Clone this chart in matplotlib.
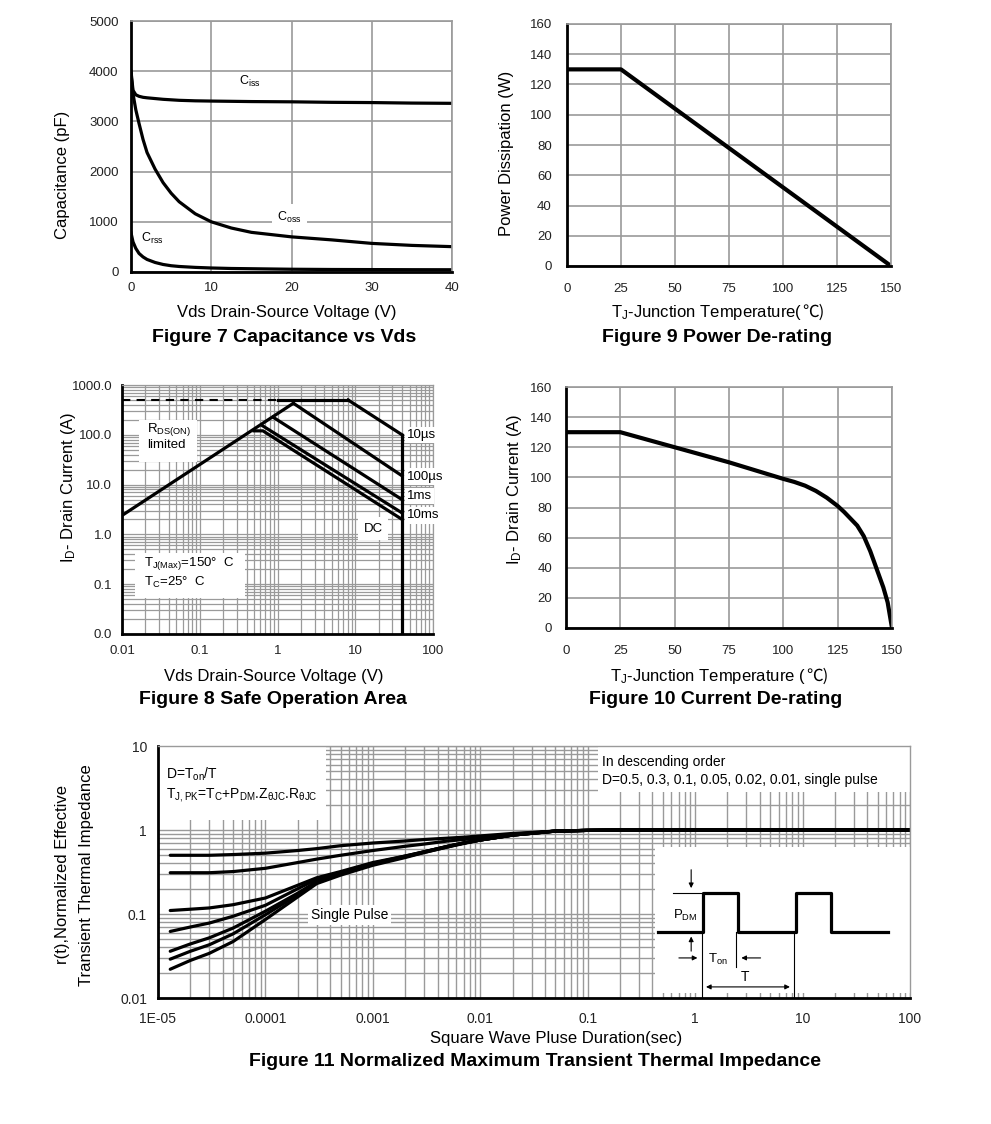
import numpy as np
import matplotlib
matplotlib.use("Agg")
import matplotlib.pyplot as plt
from matplotlib.patches import Rectangle
from matplotlib.ticker import LogLocator, NullFormatter

plt.rcParams['font.family'] = ['Liberation Sans', 'DejaVu Sans']
plt.rcParams['mathtext.fontset'] = 'custom'
plt.rcParams['mathtext.rm'] = 'Liberation Sans'
plt.rcParams['mathtext.default'] = 'regular'

# ---- data ----
# Figure 7
vds = [0, 0.25, 0.6, 1, 1.5, 2, 3, 4, 5, 6, 8, 10, 12.5, 15, 20, 25, 30, 35, 40]
ciss = [4000, 3620, 3530, 3500, 3480, 3470, 3455, 3440, 3430, 3420, 3410, 3405, 3400, 3395,
        3390, 3380, 3375, 3365, 3360]
coss = [3950, 3550, 3230, 2960, 2640, 2380, 2050, 1780, 1570, 1400, 1160, 1000, 876, 790,
        700, 640, 570, 530, 505]
crss = [780, 600, 470, 370, 300, 250, 190, 150, 125, 110, 92, 80, 70, 65, 55, 50, 48, 46, 45]

# Figure 9
tj_p = [0, 25, 150]
pd_w = [130, 130, 0]

# Figure 10
tj_i = [0, 25, 50, 75, 100, 105, 110, 115, 120, 125, 128, 131, 134, 137, 140, 142, 144, 146, 148, 150]
id_a = [130, 130, 120, 110, 99, 97, 94.5, 91, 86.5, 81, 77, 72.5, 68, 61, 51, 43, 35, 27, 17, 0]

# Figure 8 (SOA)
rds_v, rds_i = [0.01, 1.6], [2.4, 430]
pk_dash_v, pk_dash_i = [0.01, 1.0], [500, 500]
pk_v, pk_i = [1.0, 8.1], [500, 500]
soa_lines = {
    '10µs': ([8.1, 40], [500, 100]),
    '100µs': ([1.6, 40], [430, 15]),
    '1ms': ([0.88, 40], [225, 5.0]),
    '10ms': ([0.65, 40], [150, 2.7]),
    'DC': ([0.5, 0.65, 40], [120, 120, 2.0]),
}
bv_v, bv_i = [40, 40], [100, 0.01]

# Figure 11
tp = [1.3e-5, 2e-5, 3e-5, 5e-5, 1e-4, 2e-4, 3e-4, 5e-4, 1e-3, 2e-3, 3e-3, 5e-3, 7e-3,
      1e-2, 2e-2, 5e-2, 0.1, 0.2, 1, 10, 100]
zth = {
    'D=0.5': [0.50, 0.50, 0.50, 0.51, 0.53, 0.57, 0.60, 0.65, 0.70, 0.74, 0.77, 0.80, 0.82,
              0.85, 0.91, 0.97, 0.99, 1.0, 1.0, 1.0, 1.0],
    'D=0.3': [0.31, 0.31, 0.31, 0.32, 0.35, 0.41, 0.45, 0.50, 0.57, 0.64, 0.68, 0.74, 0.77,
              0.81, 0.89, 0.97, 0.99, 1.0, 1.0, 1.0, 1.0],
    'D=0.1': [0.110, 0.114, 0.118, 0.129, 0.155, 0.22, 0.27, 0.32, 0.41, 0.49, 0.55, 0.64, 0.70,
              0.76, 0.87, 0.97, 0.99, 1.0, 1.0, 1.0, 1.0],
    'D=0.05': [0.062, 0.070, 0.078, 0.094, 0.127, 0.20, 0.26, 0.31, 0.40, 0.49, 0.55, 0.64, 0.70,
               0.76, 0.87, 0.97, 0.99, 1.0, 1.0, 1.0, 1.0],
    'D=0.02': [0.036, 0.044, 0.052, 0.068, 0.108, 0.177, 0.244, 0.30, 0.40, 0.48, 0.55, 0.64, 0.70,
               0.76, 0.87, 0.97, 0.99, 1.0, 1.0, 1.0, 1.0],
    'D=0.01': [0.029, 0.036, 0.043, 0.058, 0.098, 0.17, 0.24, 0.30, 0.39, 0.48, 0.54, 0.63, 0.70,
               0.76, 0.87, 0.97, 0.99, 1.0, 1.0, 1.0, 1.0],
    'single': [0.022, 0.028, 0.034, 0.047, 0.086, 0.16, 0.23, 0.29, 0.38, 0.47, 0.54, 0.63, 0.69,
               0.76, 0.87, 0.97, 0.99, 1.0, 1.0, 1.0, 1.0],
}

W, H = 991, 1124
fig = plt.figure(figsize=(W / 100, H / 100), dpi=100)
GRID = '#9a9a9a'


def rect(l, t, r, b):
    return [l / W, 1 - b / H, (r - l) / W, (b - t) / H]


def ftext(x, y, s, **kw):
    kw.setdefault('ha', 'center')
    kw.setdefault('va', 'center')
    fig.text(x / W, 1 - y / H, s, **kw)


def style(ax, xpad, ypad, fs=9.5, glw=1.2):
    ax.set_axisbelow(True)
    ax.grid(True, which='both', color=GRID, lw=glw)
    for s in ['top', 'right']:
        ax.spines[s].set_color(GRID)
        ax.spines[s].set_linewidth(glw)
    for s in ['left', 'bottom']:
        ax.spines[s].set_color('black')
        ax.spines[s].set_linewidth(2)
    ax.tick_params(which='both', length=0, labelsize=fs, labelcolor='#222222')
    ax.tick_params(axis='x', pad=xpad)
    ax.tick_params(axis='y', pad=ypad)


def logminor(axis):
    axis.set_minor_locator(LogLocator(base=10, subs=np.arange(2, 10), numticks=100))
    axis.set_minor_formatter(NullFormatter())


# ---- Figure 7 ----
ax7 = fig.add_axes(rect(131, 21, 452, 272))
ax7.plot(vds, ciss, color='black', lw=2.3)
ax7.plot(vds, coss, color='black', lw=2.3)
ax7.plot(vds, crss, color='black', lw=2.3)
ax7.set_xlim(0, 40)
ax7.set_ylim(0, 5000)
ax7.set_xticks([0, 10, 20, 30, 40])
ax7.set_yticks(range(0, 5001, 1000))
style(ax7, 7, 9)
box = dict(facecolor='white', edgecolor='none', pad=2)
ax7.text(13.5, 3720, 'C$_{iss}$', fontsize=9, bbox=box)
ax7.text(18.2, 1090, 'C$_{oss}$', fontsize=9, va='center', bbox=dict(facecolor='white', edgecolor='none', pad=4))
ax7.text(1.2, 670, 'C$_{rss}$', fontsize=9, va='center')
ftext(62, 175, 'Capacitance (pF)', rotation=90, fontsize=12)
ftext(287, 312, 'Vds Drain-Source Voltage (V)', fontsize=12)
ftext(284, 338, 'Figure 7 Capacitance vs Vds', fontsize=14, weight='bold')

# ---- Figure 9 ----
ax9 = fig.add_axes(rect(567, 24, 891, 266))
ax9.plot(tj_p, pd_w, color='black', lw=3)
ax9.set_xlim(0, 150)
ax9.set_ylim(0, 160)
ax9.set_xticks(range(0, 151, 25))
ax9.set_yticks(range(0, 161, 20))
style(ax9, 12, 11)
ftext(507, 153, 'Power Dissipation (W)', rotation=90, fontsize=12)
ftext(802, 312, 'T$_J$-Junction Temperature(', fontsize=12, ha='right')
ftext(802, 312, '℃)', fontsize=12, ha='left', family=['Noto Sans CJK SC', 'DejaVu Sans'])
ftext(717, 338, 'Figure 9 Power De-rating', fontsize=14, weight='bold')

# ---- Figure 8 ----
ax8 = fig.add_axes(rect(122, 385, 433, 634))
ax8.set_xscale('log')
ax8.set_yscale('log')
ax8.set_xlim(0.01, 100)
ax8.set_ylim(0.01, 1000)
ax8.set_xticks([0.01, 0.1, 1, 10, 100], ['0.01', '0.1', '1', '10', '100'])
ax8.set_yticks([0.01, 0.1, 1, 10, 100, 1000], ['0.0', '0.1', '1.0', '10.0', '100.0', '1000.0'])
logminor(ax8.xaxis)
logminor(ax8.yaxis)
style(ax8, 8, 7, glw=0.9)
ax8.plot(rds_v, rds_i, color='black', lw=2.3)
ax8.plot(pk_dash_v, pk_dash_i, color='black', lw=1.5, ls=(0, (4, 3)))
ax8.plot(pk_v, pk_i, color='black', lw=2.3)
for name, (v, i) in soa_lines.items():
    ax8.plot(v, i, color='black', lw=2.3)
ax8.plot(bv_v, bv_i, color='black', lw=2.3)
ax8.add_patch(Rectangle((0.0167, 28), 0.091 - 0.0167, 200 - 28, facecolor='white', edgecolor='none', zorder=1.5))
ax8.text(0.021, 95, 'R$_{DS(ON)}$\nlimited', fontsize=9.5, va='center', zorder=3)
ax8.add_patch(Rectangle((0.0147, 0.054), 0.38 - 0.0147, 0.43 - 0.054, facecolor='white', edgecolor='none', zorder=1.5))
ax8.text(0.019, 0.26, 'T$_{J(Max)}$=150°  C', fontsize=9.5, va='center', zorder=3)
ax8.text(0.019, 0.11, 'T$_{C}$=25°  C', fontsize=9.5, va='center', zorder=3)
lab = dict(facecolor='white', edgecolor='none', pad=1.5)
ax8.text(46, 100, '10µs', fontsize=9.5, va='center', bbox=lab)
ax8.text(46, 14.5, '100µs', fontsize=9.5, va='center', bbox=lab)
ax8.text(46, 6.0, '1ms', fontsize=9.5, va='center', bbox=lab)
ax8.text(46, 2.4, '10ms', fontsize=9.5, va='center', bbox=lab)
ax8.text(17, 1.3, 'DC', fontsize=9.5, ha='center', va='center', bbox=dict(facecolor='white', edgecolor='none', pad=4))
ftext(68, 487, 'I$_D$- Drain Current (A)', rotation=90, fontsize=12)
ftext(274, 676, 'Vds Drain-Source Voltage (V)', fontsize=12)
ftext(273, 700, 'Figure 8 Safe Operation Area', fontsize=14, weight='bold')

# ---- Figure 10 ----
ax10 = fig.add_axes(rect(566, 387, 892, 628))
ax10.plot(tj_i, id_a, color='black', lw=3)
ax10.set_xlim(0, 150)
ax10.set_ylim(0, 160)
ax10.set_xticks(range(0, 151, 25))
ax10.set_yticks(range(0, 161, 20))
style(ax10, 12, 10)
ftext(515, 489, 'I$_D$- Drain Current (A)', rotation=90, fontsize=12)
ftext(806, 676, 'T$_J$-Junction Temperature (', fontsize=12, ha='right')
ftext(806, 676, '℃)', fontsize=12, ha='left', family=['Noto Sans CJK SC', 'DejaVu Sans'])
ftext(716, 700, 'Figure 10 Current De-rating', fontsize=14, weight='bold')

# ---- Figure 11 ----
ax11 = fig.add_axes(rect(158, 746, 910, 998))
ax11.set_xscale('log')
ax11.set_yscale('log')
ax11.set_xlim(1e-5, 100)
ax11.set_ylim(0.01, 10)
ax11.set_xticks([1e-5, 1e-4, 1e-3, 1e-2, 0.1, 1, 10, 100],
                ['1E-05', '0.0001', '0.001', '0.01', '0.1', '1', '10', '100'])
ax11.set_yticks([0.01, 0.1, 1, 10], ['0.01', '0.1', '1', '10'])
logminor(ax11.xaxis)
logminor(ax11.yaxis)
style(ax11, 10, 8, fs=10, glw=1.0)
for name, z in zth.items():
    ax11.plot(tp, z, color='black', lw=2.3, solid_capstyle='round')
ax11.add_patch(Rectangle((1e-5, 1.3), 3.7e-4 - 1e-5, 10 - 1.3, facecolor='white', edgecolor='none', zorder=1.5))
ax11.add_patch(Rectangle((0.125, 2.83), 100 - 0.125, 10 - 2.83, facecolor='white', edgecolor='none', zorder=1.5))
ax11.add_patch(Rectangle((0.42, 0.0115), 100 - 0.42, 0.63 - 0.0115, facecolor='white', edgecolor='none', zorder=1.5))
ax11.text(1.18e-5, 4.6, 'D=T$_{on}$/T', fontsize=10, va='center', zorder=3)
ax11.text(1.18e-5, 2.6, 'T$_{J,PK}$=T$_C$+P$_{DM}$.Z$_{θJC}$.R$_{θJC}$', fontsize=10, va='center', zorder=3)
ax11.text(0.135, 6.4, 'In descending order', fontsize=10, va='center', zorder=3)
ax11.text(0.135, 3.9, 'D=0.5, 0.3, 0.1, 0.05, 0.02, 0.01, single pulse', fontsize=10, va='center', zorder=3)
ax11.text(6.1e-4, 0.097, 'Single Pulse', fontsize=10, ha='center', va='center',
          bbox=dict(facecolor='white', edgecolor='none', pad=2))

# pulse sketch in the inset (axes fraction)
T = ax11.transAxes
px = [0.665, 0.725, 0.725, 0.771, 0.771, 0.848, 0.848, 0.895, 0.895, 0.971]
py = [0.262, 0.262, 0.417, 0.417, 0.262, 0.262, 0.417, 0.417, 0.262, 0.262]
ax11.plot(px, py, transform=T, color='black', lw=2.3, zorder=4)
ax11.plot([0.685, 0.725], [0.417, 0.417], transform=T, color='black', lw=0.8, zorder=4)
ax11.plot([0.723, 0.723], [0.262, 0.0], transform=T, color='black', lw=0.8, zorder=4)
ax11.plot([0.769, 0.769], [0.262, 0.123], transform=T, color='black', lw=0.8, zorder=4)
ax11.plot([0.846, 0.846], [0.262, 0.0], transform=T, color='black', lw=0.8, zorder=4)
arr = dict(arrowstyle='-|>', color='black', lw=0.8, mutation_scale=7)
ax11.annotate('', xy=(0.709, 0.425), xytext=(0.709, 0.52), xycoords=T, textcoords=T, arrowprops=arr, zorder=4)
ax11.annotate('', xy=(0.709, 0.255), xytext=(0.709, 0.175), xycoords=T, textcoords=T, arrowprops=arr, zorder=4)
ax11.annotate('', xy=(0.721, 0.159), xytext=(0.689, 0.159), xycoords=T, textcoords=T, arrowprops=arr, zorder=4)
ax11.annotate('', xy=(0.772, 0.159), xytext=(0.805, 0.159), xycoords=T, textcoords=T, arrowprops=arr, zorder=4)
ax11.annotate('', xy=(0.844, 0.044), xytext=(0.725, 0.044), xycoords=T, textcoords=T,
              arrowprops=dict(arrowstyle='<|-|>', color='black', lw=0.8, mutation_scale=7), zorder=4)
ax11.text(0.701, 0.329, 'P$_{DM}$', transform=T, fontsize=9.5, ha='center', va='center', zorder=4)
ax11.text(0.745, 0.151, 'T$_{on}$', transform=T, fontsize=9.5, ha='center', va='center', zorder=4)
ax11.text(0.781, 0.083, 'T', transform=T, fontsize=10, ha='center', va='center', zorder=4)

ftext(62, 875, 'r(t),Normalized Effective', rotation=90, fontsize=12)
ftext(87, 875, 'Transient Thermal Impedance', rotation=90, fontsize=12)
ftext(556, 1038, 'Square Wave Pluse Duration(sec)', fontsize=12)
ftext(535, 1062, 'Figure 11 Normalized Maximum Transient Thermal Impedance', fontsize=14, weight='bold')

fig.savefig('out.png', dpi=100)
